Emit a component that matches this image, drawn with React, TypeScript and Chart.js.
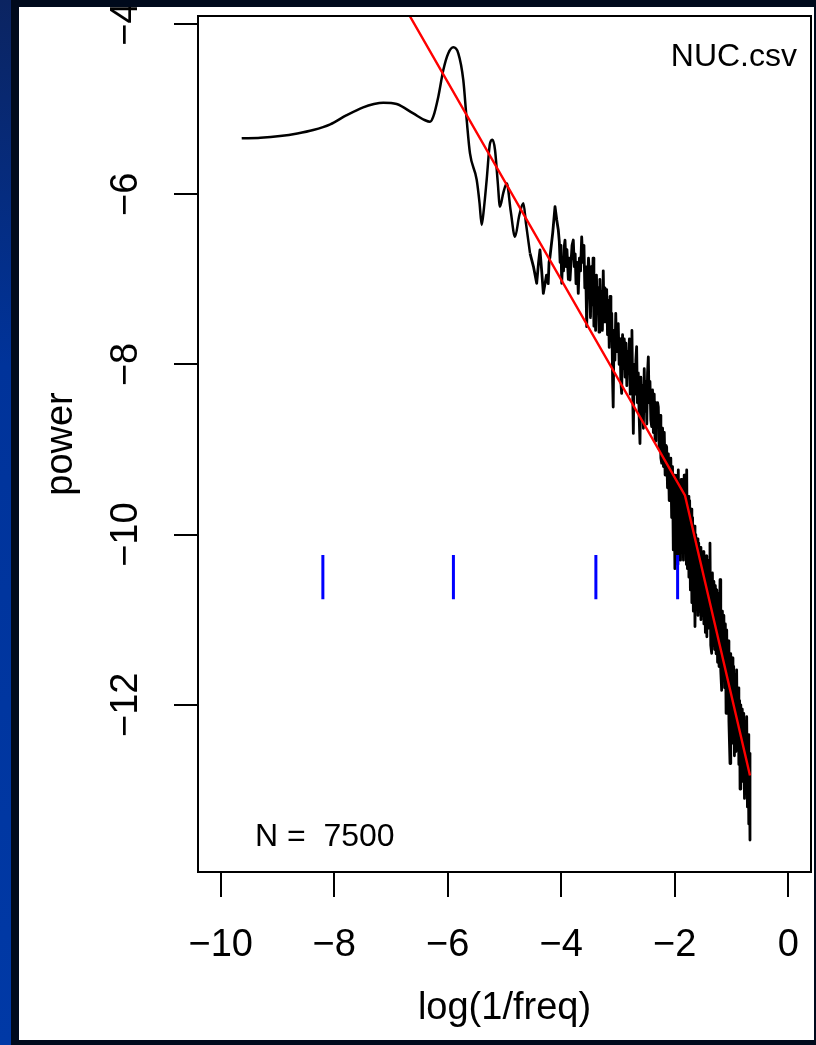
import React, { useEffect, useRef } from 'react';
import { Chart, registerables } from 'chart.js';

Chart.register(...registerables);

const FONT = '"Liberation Sans", Arial, Helvetica, sans-serif';

// Smooth low-frequency part of the spectrum (log(1/freq), power)
const smoothX = [-9.63, -9.3, -8.955, -8.65, -8.37, -8.07, -7.78, -7.49, -7.3, -7.135, -6.9, -6.607, -6.4, -6.313, -6.255, -6.166, -6.078, -5.99, -5.902, -5.814, -5.726, -5.666, -5.608, -5.49, -5.44, -5.402, -5.36, -5.314, -5.255, -5.21, -5.167, -5.12, -5.08, -5.02, -4.96, -4.89, -4.815, -4.74, -4.668, -4.62, -4.55];
const smoothY = [-5.343, -5.335, -5.315, -5.285, -5.245, -5.178, -5.07, -4.978, -4.94, -4.924, -4.94, -5.05, -5.13, -5.147, -5.088, -4.853, -4.54, -4.343, -4.273, -4.343, -4.657, -5.127, -5.52, -5.83, -6.1, -6.36, -6.15, -5.83, -5.4, -5.36, -5.48, -5.85, -6.146, -5.98, -5.87, -6.2, -6.5, -6.25, -6.107, -6.35, -6.694];

// Noisy high-frequency part, [log(1/freq), power]
const noisyPoints: [number, number][] = [
  [-4.55, -6.694], [-4.49, -6.85], [-4.433, -7.046], [-4.40, -6.8], [-4.375, -6.655], [-4.345, -6.9], [-4.316, -7.165], [-4.26, -6.95], [-4.23, -7.05], [-4.215, -6.80],
  [-4.198, -6.734], [-4.15, -6.45], [-4.11, -6.146], [-4.08, -6.3], [-4.052, -6.42], [-4.035, -6.55], [-4.02, -6.8], [-4.005, -6.6], [-3.992, -7.046], [-3.975, -6.75],
  [-3.96, -6.9], [-3.945, -6.6], [-3.934, -6.538], [-3.915, -6.85], [-3.90, -6.65], [-3.875, -7.0], [-3.86, -6.75], [-3.846, -7.008], [-3.828, -6.8], [-3.81, -6.6],
  [-3.788, -6.538], [-3.77, -6.85], [-3.755, -6.7], [-3.74, -7.05], [-3.72, -6.8], [-3.70, -7.165], [-3.68, -6.75], [-3.66, -6.9], [-3.64, -6.5], [-3.62, -6.8],
  [-3.60, -6.6], [-3.585, -7.1], [-3.57, -6.85], [-3.552, -7.556], [-3.535, -7.0], [-3.52, -6.75],
  [-3.500, -7.00], [-3.485, -7.45], [-3.470, -6.85], [-3.455, -7.30], [-3.440, -6.75], [-3.425, -7.55], [-3.410, -7.05], [-3.395, -7.60], [-3.380, -6.95], [-3.365, -7.40],
  [-3.350, -7.10], [-3.335, -7.62], [-3.320, -7.00], [-3.305, -7.45], [-3.290, -7.15], [-3.275, -7.60], [-3.260, -6.90], [-3.245, -7.50], [-3.230, -7.10], [-3.215, -7.35],
  [-3.200, -7.12], [-3.185, -7.65], [-3.170, -7.25], [-3.155, -7.80], [-3.140, -7.20], [-3.125, -7.70], [-3.110, -7.40], [-3.095, -8.20], [-3.085, -8.50], [-3.070, -7.60],
  [-3.055, -7.95], [-3.040, -7.40], [-3.025, -7.85], [-3.010, -7.55], [-2.996, -7.52], [-2.980, -8.00], [-2.965, -7.70], [-2.950, -8.20], [-2.936, -8.34], [-2.920, -7.65],
  [-2.905, -8.05], [-2.890, -7.70], [-2.875, -8.15], [-2.860, -7.75], [-2.845, -8.25], [-2.830, -7.85], [-2.815, -8.10], [-2.800, -7.70], [-2.785, -8.35], [-2.770, -7.80],
  [-2.755, -7.60], [-2.740, -8.40], [-2.730, -8.81], [-2.715, -8.00], [-2.700, -8.35], [-2.686, -7.95], [-2.672, -7.79], [-2.658, -8.45], [-2.643, -8.10], [-2.628, -8.60],
  [-2.613, -8.93], [-2.598, -8.15], [-2.583, -8.60], [-2.568, -8.25], [-2.553, -8.75], [-2.538, -8.05], [-2.523, -8.55], [-2.508, -8.20], [-2.493, -8.70], [-2.480, -8.10],
  [-2.466, -7.91], [-2.452, -8.45], [-2.437, -8.20], [-2.422, -8.65], [-2.407, -8.73], [-2.392, -8.30], [-2.377, -8.80], [-2.362, -8.35], [-2.347, -8.90], [-2.332, -8.45],
  [-2.317, -8.70], [-2.302, -8.45], [-2.290, -8.50], [-2.275, -9.00], [-2.260, -8.60], [-2.245, -9.10], [-2.230, -9.16], [-2.215, -8.75], [-2.200, -9.20], [-2.185, -8.80],
  [-2.170, -9.30], [-2.155, -8.95], [-2.143, -8.97], [-2.128, -9.45], [-2.113, -9.05], [-2.098, -9.60], [-2.085, -9.55], [-2.070, -9.10], [-2.055, -9.80], [-2.040, -9.20],
  [-2.026, -10.18], [-2.012, -9.30], [-1.998, -10.40], [-1.985, -9.35], [-1.972, -10.20], [-1.958, -9.30], [-1.945, -10.35], [-1.938, -9.24], [-1.925, -10.10], [-1.912, -9.45],
  [-1.899, -10.30], [-1.886, -9.35], [-1.873, -10.15], [-1.860, -9.40], [-1.847, -10.30], [-1.834, -9.30], [-1.821, -10.20], [-1.808, -9.35], [-1.795, -10.35], [-1.790, -9.24],
  [-1.777, -10.40], [-1.764, -9.55], [-1.751, -10.50], [-1.738, -9.60], [-1.725, -10.65], [-1.712, -9.70], [-1.699, -10.80], [-1.686, -9.80], [-1.673, -10.90], [-1.660, -9.90],
  [-1.644, -11.08], [-1.630, -10.00], [-1.617, -10.85], [-1.604, -10.05], [-1.591, -10.95], [-1.578, -10.10], [-1.565, -10.90], [-1.552, -10.15], [-1.539, -11.00], [-1.526, -10.25],
  [-1.513, -10.95], [-1.500, -10.20], [-1.487, -11.05], [-1.474, -10.30], [-1.461, -11.15], [-1.448, -10.25], [-1.435, -11.20], [-1.422, -10.35], [-1.409, -11.10], [-1.396, -10.30],
  [-1.380, -10.10], [-1.366, -11.30], [-1.350, -11.395], [-1.337, -10.45], [-1.324, -11.30], [-1.311, -10.55], [-1.298, -11.35], [-1.285, -10.60], [-1.272, -11.40], [-1.259, -10.65],
  [-1.246, -11.50], [-1.233, -10.70], [-1.220, -11.55], [-1.203, -10.53], [-1.190, -11.60], [-1.174, -11.83], [-1.161, -10.90], [-1.148, -11.70], [-1.135, -10.95], [-1.122, -11.80],
  [-1.109, -11.05], [-1.096, -12.10], [-1.085, -11.12], [-1.072, -12.00], [-1.059, -11.25], [-1.046, -12.20], [-1.027, -12.69], [-1.014, -11.40], [-1.001, -12.35], [-0.988, -11.45],
  [-0.975, -12.45], [-0.962, -11.55], [-0.949, -12.60], [-0.936, -11.65], [-0.923, -12.55], [-0.910, -11.59], [-0.897, -12.50], [-0.884, -11.80], [-0.871, -12.70], [-0.858, -11.95],
  [-0.850, -12.99], [-0.837, -12.00], [-0.824, -12.80], [-0.811, -12.05], [-0.798, -12.90], [-0.785, -12.10], [-0.772, -13.10], [-0.759, -12.20], [-0.746, -13.00], [-0.733, -12.14],
  [-0.720, -13.20], [-0.708, -12.35], [-0.696, -13.40], [-0.685, -12.57], [-0.675, -13.59],
];

// Broken-line fit (red)
const fitX = [-7.0, -1.82, -0.675];
const fitY = [-3.52, -9.54, -12.83];

// Blue scale markers
const markX = [-8.2, -5.9, -3.39, -1.95];
const markTop = [-10.24, -10.24, -10.24, -10.24];
const markBottom = [-10.76, -10.76, -10.76, -10.76];

const xTickValues = [-10, -8, -6, -4, -2, 0];
const xTickLabels = ['\u221210', '\u22128', '\u22126', '\u22124', '\u22122', '0'];
const yTickValues = [-12, -10, -8, -6, -4];
const yTickLabels = ['\u221212', '\u221210', '\u22128', '\u22126', '\u22124'];

const xTitle = 'log(1/freq)';
const yTitle = 'power';
const fileLabel = 'NUC.csv';
const sampleLabel = 'N =  7500';

const xMin = -10.4;
const xMax = 0.4;
const yMin = -13.965;
const yMax = -3.905;

const annotationPlugin = {
  id: 'rAnnotations',
  afterDraw(chart: any) {
    const { ctx, chartArea } = chart;
    ctx.save();
    ctx.strokeStyle = '#000';
    ctx.lineWidth = 2;
    ctx.strokeRect(chartArea.left, chartArea.top, chartArea.right - chartArea.left, chartArea.bottom - chartArea.top);
    ctx.fillStyle = '#000';
    ctx.font = `32px ${FONT}`;
    ctx.textBaseline = 'alphabetic';
    ctx.textAlign = 'right';
    ctx.fillText(fileLabel, chartArea.right - 14, chartArea.top + 50);
    ctx.textAlign = 'left';
    ctx.fillText(sampleLabel, chartArea.left + 57, chartArea.bottom - 26);
    ctx.restore();
  },
};

export default function App() {
  const canvasRef = useRef<HTMLCanvasElement>(null);

  useEffect(() => {
    document.body.style.margin = '0';
    const canvas = canvasRef.current;
    if (!canvas) return;

    const markData: any[] = [];
    markX.forEach((x, i) => {
      markData.push({ x, y: markTop[i] });
      markData.push({ x, y: markBottom[i] });
      markData.push({ x, y: null });
    });

    const chart = new Chart(canvas, {
      type: 'line',
      data: {
        datasets: [
          {
            label: 'marks',
            data: markData,
            borderColor: '#0000ff',
            borderWidth: 3,
            pointRadius: 0,
            spanGaps: false,
            borderCapStyle: 'butt',
            order: 1,
          },
          {
            label: 'fit',
            data: fitX.map((x, i) => ({ x, y: fitY[i] })),
            borderColor: '#ff0000',
            borderWidth: 2.4,
            pointRadius: 0,
            tension: 0,
            order: 2,
          },
          {
            label: 'spectrum-smooth',
            data: smoothX.map((x, i) => ({ x, y: smoothY[i] })),
            borderColor: '#000000',
            borderWidth: 2.5,
            pointRadius: 0,
            cubicInterpolationMode: 'monotone',
            borderJoinStyle: 'round',
            order: 3,
          },
          {
            label: 'spectrum-noisy',
            data: noisyPoints.map(([x, y]) => ({ x, y })),
            borderColor: '#000000',
            borderWidth: 2.8,
            pointRadius: 0,
            tension: 0,
            borderJoinStyle: 'round',
            order: 3,
          },
        ],
      } as any,
      options: {
        responsive: false,
        devicePixelRatio: 1,
        animation: false,
        events: [],
        layout: { padding: { top: 16, right: 5, left: 0, bottom: 0 } },
        plugins: { legend: { display: false }, tooltip: { enabled: false } },
        scales: {
          x: {
            type: 'linear',
            position: 'bottom',
            min: xMin,
            max: xMax,
            afterBuildTicks: (s: any) => { s.ticks = xTickValues.map((v) => ({ value: v })); },
            afterFit: (s: any) => { s.height = 173; s.paddingLeft = 0; s.paddingRight = 0; },
            grid: { display: true, drawOnChartArea: false, drawTicks: true, tickLength: 25, color: '#000', lineWidth: 2 },
            border: { display: false },
            ticks: {
              autoSkip: false,
              maxRotation: 0,
              minRotation: 0,
              padding: 26,
              color: '#000',
              font: { family: FONT, size: 38 },
              callback: (v: any) => { const i = xTickValues.indexOf(Number(v)); return i >= 0 ? xTickLabels[i] : ''; },
            },
            title: { display: true, text: xTitle, color: '#000', font: { family: FONT, size: 38 }, padding: { top: 0, bottom: 14 } },
          },
          y: {
            type: 'linear',
            position: 'left',
            min: yMin,
            max: yMax,
            afterBuildTicks: (s: any) => { s.ticks = yTickValues.map((v) => ({ value: v })); },
            afterFit: (s: any) => { s.width = 198; s.paddingTop = 0; s.paddingBottom = 0; },
            grid: { display: true, drawOnChartArea: false, drawTicks: true, tickLength: 24, color: '#000', lineWidth: 2 },
            border: { display: false },
            ticks: {
              autoSkip: false,
              minRotation: 90,
              maxRotation: 90,
              crossAlign: 'center',
              padding: 15,
              color: '#000',
              font: { family: FONT, size: 38 },
              callback: (v: any) => { const i = yTickValues.indexOf(Number(v)); return i >= 0 ? yTickLabels[i] : ''; },
            },
            title: { display: true, text: yTitle, color: '#000', font: { family: FONT, size: 38 }, padding: { top: 39, bottom: 0 } },
          },
        },
      } as any,
      plugins: [annotationPlugin],
    });

    return () => chart.destroy();
  }, []);

  return (
    <div style={{ position: 'relative', width: 816, height: 1045, background: '#000a1c', overflow: 'hidden' }}>
      <div style={{ position: 'absolute', left: 0, top: 0, width: 11, height: 1045, background: 'linear-gradient(to bottom, #0b2461 0%, #00339a 35%, #0039a6 100%)' }} />
      <div style={{ position: 'absolute', left: 19, top: 7, width: 795, height: 1033, background: '#ffffff' }} />
      <canvas ref={canvasRef} width={816} height={1045} style={{ position: 'absolute', left: 0, top: 0, width: 816, height: 1045 }} />
      <div style={{ position: 'absolute', left: 11, top: 0, width: 805, height: 7, background: '#000a1c' }} />
    </div>
  );
}
